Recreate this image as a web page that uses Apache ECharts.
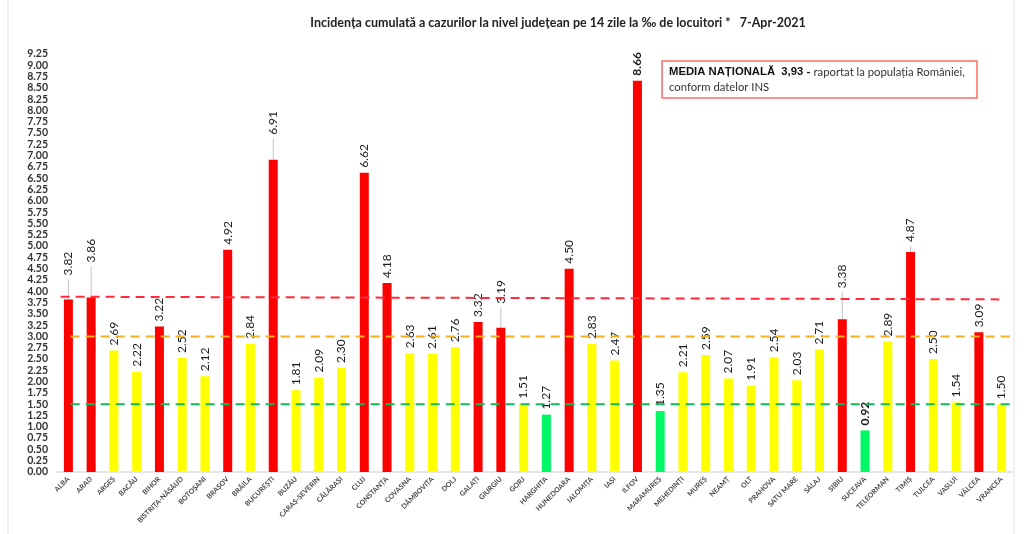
<!DOCTYPE html>
<html>
<head>
<meta charset="utf-8">
<title>Incidența cumulată</title>
<script src="https://cdn.jsdelivr.net/npm/echarts@6/dist/echarts.min.js"></script>
<style>
  html, body { margin: 0; padding: 0; background: #fff; }
  #chart { width: 1024px; height: 534px; }
</style>
</head>
<body>
<div id="chart"></div>
<script>
const counties = [
  "ALBA", "ARAD", "ARGEȘ", "BACĂU", "BIHOR", "BISTRIȚA-NĂSĂUD", "BOTOȘANI", "BRAȘOV", "BRĂILA", "BUCUREȘTI",
  "BUZĂU", "CARAȘ-SEVERIN", "CĂLĂRAȘI", "CLUJ", "CONSTANȚA", "COVASNA", "DÂMBOVIȚA", "DOLJ", "GALAȚI", "GIURGIU",
  "GORJ", "HARGHITA", "HUNEDOARA", "IALOMIȚA", "IAȘI", "ILFOV", "MARAMUREȘ", "MEHEDINȚI", "MUREȘ", "NEAMȚ",
  "OLT", "PRAHOVA", "SATU MARE", "SĂLAJ", "SIBIU", "SUCEAVA", "TELEORMAN", "TIMIȘ", "TULCEA", "VASLUI",
  "VÂLCEA", "VRANCEA"
];
const incidence = [
  3.82, 3.86, 2.69, 2.22, 3.22, 2.52, 2.12, 4.92, 2.84, 6.91,
  1.81, 2.09, 2.30, 6.62, 4.18, 2.63, 2.61, 2.76, 3.32, 3.19,
  1.51, 1.27, 4.50, 2.83, 2.47, 8.66, 1.35, 2.21, 2.59, 2.07,
  1.91, 2.54, 2.03, 2.71, 3.38, 0.92, 2.89, 4.87, 2.50, 1.54,
  3.09, 1.50
];
// reference lines, x counted in county slots (0 = left edge of ALBA)
const nationalLine = [[-0.5, 3.88], [41.4, 3.82]];
const orangeLine = [[0.6, 3], [42, 3]];
const greenLine = [[0.6, 1.5], [42, 1.5]];

// labels pulled away from their bar, with a leader line
const labelLift = { "ALBA": 19, "ARAD": 30, "BUCUREȘTI": 20, "GIURGIU": 19, "SIBIU": 26, "TIMIȘ": 5 };
const boldLabels = ["ILFOV", "SUCEAVA"];

function barColor(v) {
  if (v >= 3) return "#ff0000";
  if (v >= 1.5) return "#ffff00";
  return "#00f864";
}

function dashedLine(data, color) {
  return {
    type: "line",
    xAxisIndex: 1,
    data: data,
    symbol: "none",
    clip: false,
    silent: true,
    z: 3,
    lineStyle: { color: color, width: 2, type: [9, 6] }
  };
}

// leader from the top of the bar up to its label
function renderLeader(params, api) {
  const top = api.coord([api.value(0), api.value(1)]);
  const lift = labelLift[counties[api.value(0)]];
  return {
    type: "line",
    shape: { x1: top[0], y1: top[1], x2: top[0], y2: top[1] - lift - 1 },
    style: { stroke: "#c4c4c4", lineWidth: 1 }
  };
}

const chart = echarts.init(document.getElementById("chart"));
chart.setOption({
  animation: false,
  backgroundColor: "#fff",
  title: {
    text: "Incidența cumulată a cazurilor la nivel județean pe 14 zile la ‰ de locuitori *   7-Apr-2021",
    left: 553,
    top: 11,
    textAlign: "center",
    textStyle: { fontFamily: "Lato", fontSize: 12.5, fontWeight: "bold", color: "#222" }
  },
  grid: { left: 57, right: 11, top: 54, bottom: 62 },
  xAxis: [
    {
      type: "category",
      data: counties,
      axisLine: { lineStyle: { color: "#dedede", width: 1.5 } },
      axisTick: { show: false },
      axisLabel: {
        interval: 0,
        rotate: 45,
        margin: 6,
        fontFamily: "Lato",
        fontSize: 7,
        fontWeight: "bold",
        color: "#444"
      }
    },
    { type: "value", min: 0, max: 42, show: false }
  ],
  yAxis: {
    type: "value",
    min: 0,
    max: 9.25,
    interval: 0.25,
    splitLine: { show: false },
    axisLine: { show: false },
    axisTick: { show: false },
    axisLabel: {
      margin: 9,
      padding: [3, 0, 0, 0],
      fontFamily: "Lato",
      fontSize: 10.5,
      fontWeight: "bold",
      color: "#333",
      formatter: v => v.toFixed(2)
    }
  },
  series: [
    {
      type: "bar",
      barWidth: 9,
      z: 2,
      data: incidence.map((v, i) => ({
        value: v,
        itemStyle: { color: barColor(v) },
        label: {
          distance: 5 + (labelLift[counties[i]] || 0),
          fontWeight: boldLabels.includes(counties[i]) ? "bold" : "normal"
        }
      })),
      label: {
        show: true,
        position: "top",
        rotate: 90,
        align: "left",
        verticalAlign: "middle",
        fontFamily: "Lato",
        fontSize: 12,
        color: "#1a1a1a",
        formatter: p => p.value.toFixed(2)
      }
    },
    {
      type: "custom",
      renderItem: renderLeader,
      silent: true,
      z: 1,
      data: counties
        .map((name, i) => [i, incidence[i]])
        .filter(d => labelLift[counties[d[0]]])
    },
    dashedLine(nationalLine, "#ff2a3c"),
    dashedLine(orangeLine, "#f4b020"),
    dashedLine(greenLine, "#12b85c")
  ],
  graphic: [
    {
      type: "line",
      shape: { x1: 8, y1: 0, x2: 8, y2: 534 },
      style: { stroke: "#ececec", lineWidth: 1.5 }
    },
    {
      type: "line",
      shape: { x1: 1014, y1: 0, x2: 1014, y2: 534 },
      style: { stroke: "#ececec", lineWidth: 1.5 }
    },
    {
      type: "rect",
      shape: { x: 662, y: 61, width: 315, height: 37 },
      style: { fill: "#fff", stroke: "#ff6a6a", lineWidth: 1.5 }
    },
    {
      type: "text",
      left: 669,
      top: 66,
      style: {
        rich: {
          b: { fontFamily: "Liberation Sans", fontSize: 11.3, fontWeight: "bold", fill: "#111", lineHeight: 15 },
          n: { fontFamily: "Lato", fontSize: 11.3, fill: "#333", lineHeight: 15 }
        },
        text: "{b|MEDIA NAȚIONALĂ  3,93 -} {n|raportat la populația României,}\n{n|conform datelor INS}"
      }
    }
  ]
});
</script>
</body>
</html>
